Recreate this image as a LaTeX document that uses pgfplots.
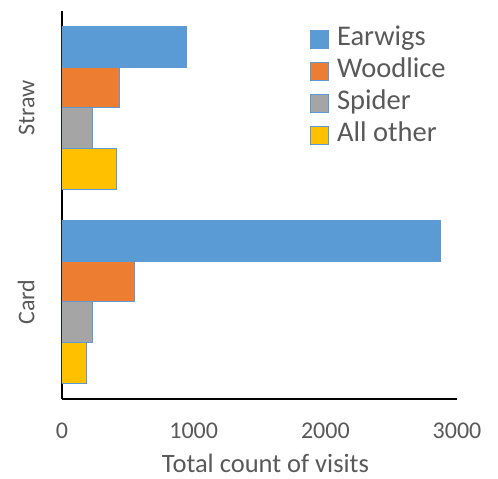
\documentclass[border=0pt]{standalone}
\usepackage{pgfplots}
\pgfplotsset{compat=1.18}
\usepackage{fontspec}
\setmainfont{Carlito}
\definecolor{cblue}{HTML}{5B9BD5}
\definecolor{corange}{HTML}{ED7D31}
\definecolor{cgray}{HTML}{A5A5A5}
\definecolor{cyellow}{HTML}{FFC000}
\definecolor{ctext}{HTML}{595959}
\begin{document}
\begin{tikzpicture}
\path[use as bounding box] (-62pt,-80pt) rectangle (436pt,399pt);
\begin{axis}[
  at={(0pt,0pt)}, anchor=south west,
  scale only axis, width=395pt, height=388pt,
  xbar, bar width=0.21,
  xmin=0, xmax=3000, ymin=-0.5, ymax=1.5,
  axis x line=bottom, axis y line=left,
  axis line style={-, black, line width=1.5pt},
  xtick={0,1000,2000,3000},
  ytick={0,1}, yticklabels={Card,Straw},
  major tick length=0pt,
  /pgf/number format/assume math mode=true,
  /pgf/number format/1000 sep={},
  ticklabel style={font=\fontsize{24}{28}\selectfont, text=ctext},
  xticklabel style={yshift=-20pt},
  yticklabel style={rotate=90, anchor=south, yshift=24pt},
  xlabel={Total count of visits},
  xlabel style={font=\fontsize{26.5}{30}\selectfont, text=ctext, inner sep=0pt, yshift=-12pt, xshift=6pt},
  legend cell align=left,
  legend style={at={(0.62,0.97)}, anchor=north west, draw=none, fill=none,
    font=\fontsize{28.5}{33}\selectfont, text=ctext, row sep=3pt, column sep=6pt,
    nodes={inner sep=2pt, text height=19pt, text depth=6pt}},
  legend image code/.code={\draw[#1, line width=1pt] (0pt,-9pt) rectangle (18pt,9pt);},
]
\addplot[fill=cblue, draw=cblue, line width=1pt, bar shift=0.315] coordinates {(2873,0) (946,1)};
\addlegendentry{Earwigs}
\addplot[fill=corange, draw=cblue, line width=1pt, bar shift=0.105] coordinates {(549,0) (440,1)};
\addlegendentry{Woodlice}
\addplot[fill=cgray, draw=cblue, line width=1pt, bar shift=-0.105] coordinates {(230,0) (228,1)};
\addlegendentry{Spider}
\addplot[fill=cyellow, draw=cblue, line width=1pt, bar shift=-0.315] coordinates {(185,0) (412,1)};
\addlegendentry{All other}
\end{axis}
\end{tikzpicture}
\end{document}
